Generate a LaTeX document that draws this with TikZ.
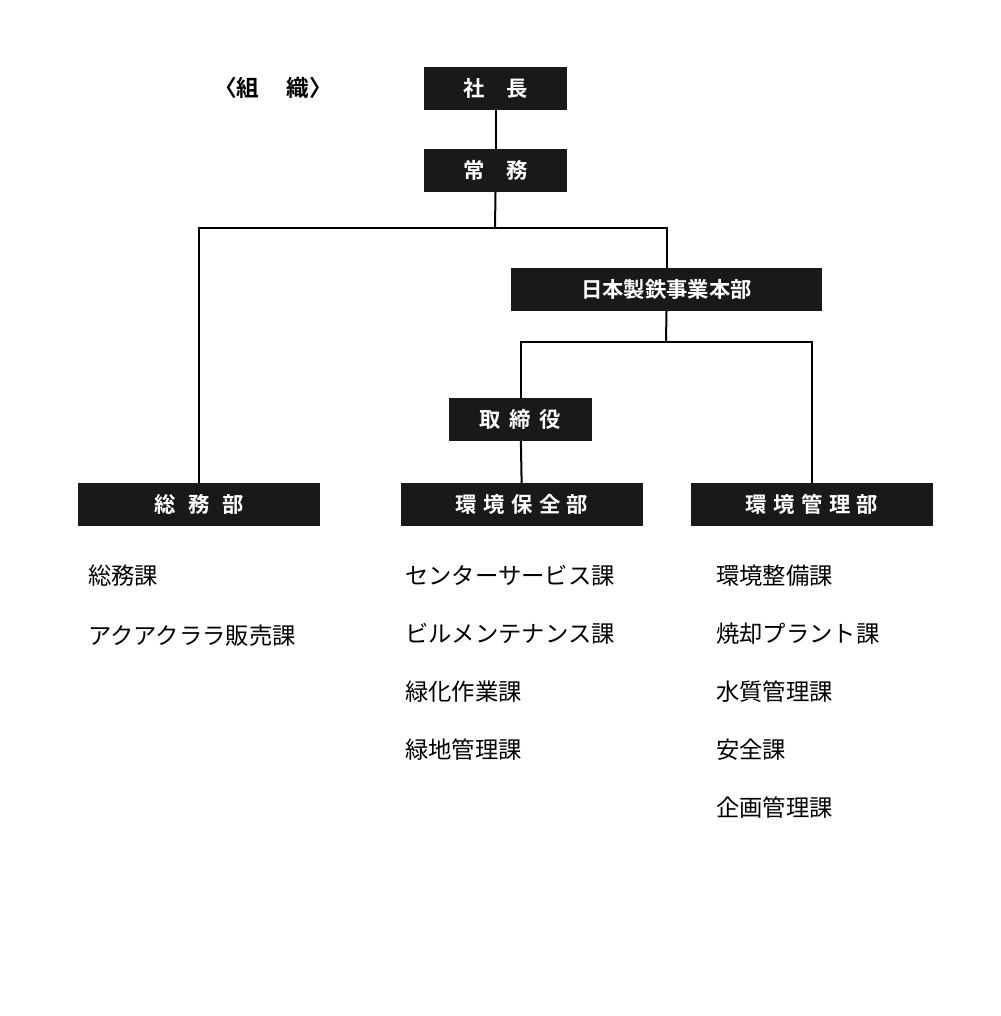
\documentclass[tikz,border=0pt]{standalone}
\usepackage{fontspec}
\setmainfont{Noto Sans CJK JP}
\newfontfamily\jb{Noto Sans CJK JP Bold}
\begin{document}
\begin{tikzpicture}[x=0.75pt,y=-0.75pt,
  box/.style={fill=black!90,text=white,minimum height=32pt,inner sep=0pt,font=\jb\fontsize{16}{16}\selectfont},
  sbox/.style={box,minimum width=107pt},
  wbox/.style={box,minimum width=181pt},
  item/.style={anchor=west,font=\fontsize{17.5}{18}\selectfont,inner sep=0pt},
  ln/.style={line width=1.5pt}]
\useasboundingbox (0,0) rectangle (1000,1016);
\node[font=\jb\fontsize{17}{17}\selectfont] (title) at (273,88) {〈組\hspace{1.2em}織〉};
\node[sbox] (ceo) at (495.5,88.5) {社\hspace{1em}長};
\node[sbox] (jm) at (495.5,170.5) {常\hspace{1em}務};
\node[box,minimum width=233pt] (hq) at (666.5,289.5) {日本製鉄事業本部};
\node[sbox] (tr) at (520.5,419.5) {取\hspace{0.4em}締\hspace{0.4em}役};
\node[wbox] (a) at (199,504.5) {総\hspace{0.6em}務\hspace{0.6em}部};
\node[wbox] (b) at (522,504.5) {環\hspace{0.3em}境\hspace{0.3em}保\hspace{0.3em}全\hspace{0.3em}部};
\node[wbox] (c) at (812,504.5) {環\hspace{0.3em}境\hspace{0.3em}管\hspace{0.3em}理\hspace{0.3em}部};
\coordinate (j1) at (495,228);
\coordinate (j2) at (666,342);
\draw[ln] (ceo) -- (jm);
\draw[ln] (jm.south) -- (j1);
\draw[ln] (j1) -| (a.north);
\draw[ln] (j1) -| (hq.north);
\draw[ln] (hq.south) -- (j2);
\draw[ln] (j2) -| (tr.north);
\draw[ln] (j2) -| (c.north);
\draw[ln] (tr) -- (b);
\node[item] (a1) at (88,576) {総務課};
\node[item] (a2) at (88,636) {アクアクララ販売課};
\node[item] (b1) at (405,576) {センターサービス課};
\node[item] (b2) at (405,634) {ビルメンテナンス課};
\node[item] (b3) at (405,692) {緑化作業課};
\node[item] (b4) at (405,750) {緑地管理課};
\node[item] (c1) at (716,576) {環境整備課};
\node[item] (c2) at (716,634) {焼却プラント課};
\node[item] (c3) at (716,692) {水質管理課};
\node[item] (c4) at (716,750) {安全課};
\node[item] (c5) at (716,808) {企画管理課};
\end{tikzpicture}
\end{document}
